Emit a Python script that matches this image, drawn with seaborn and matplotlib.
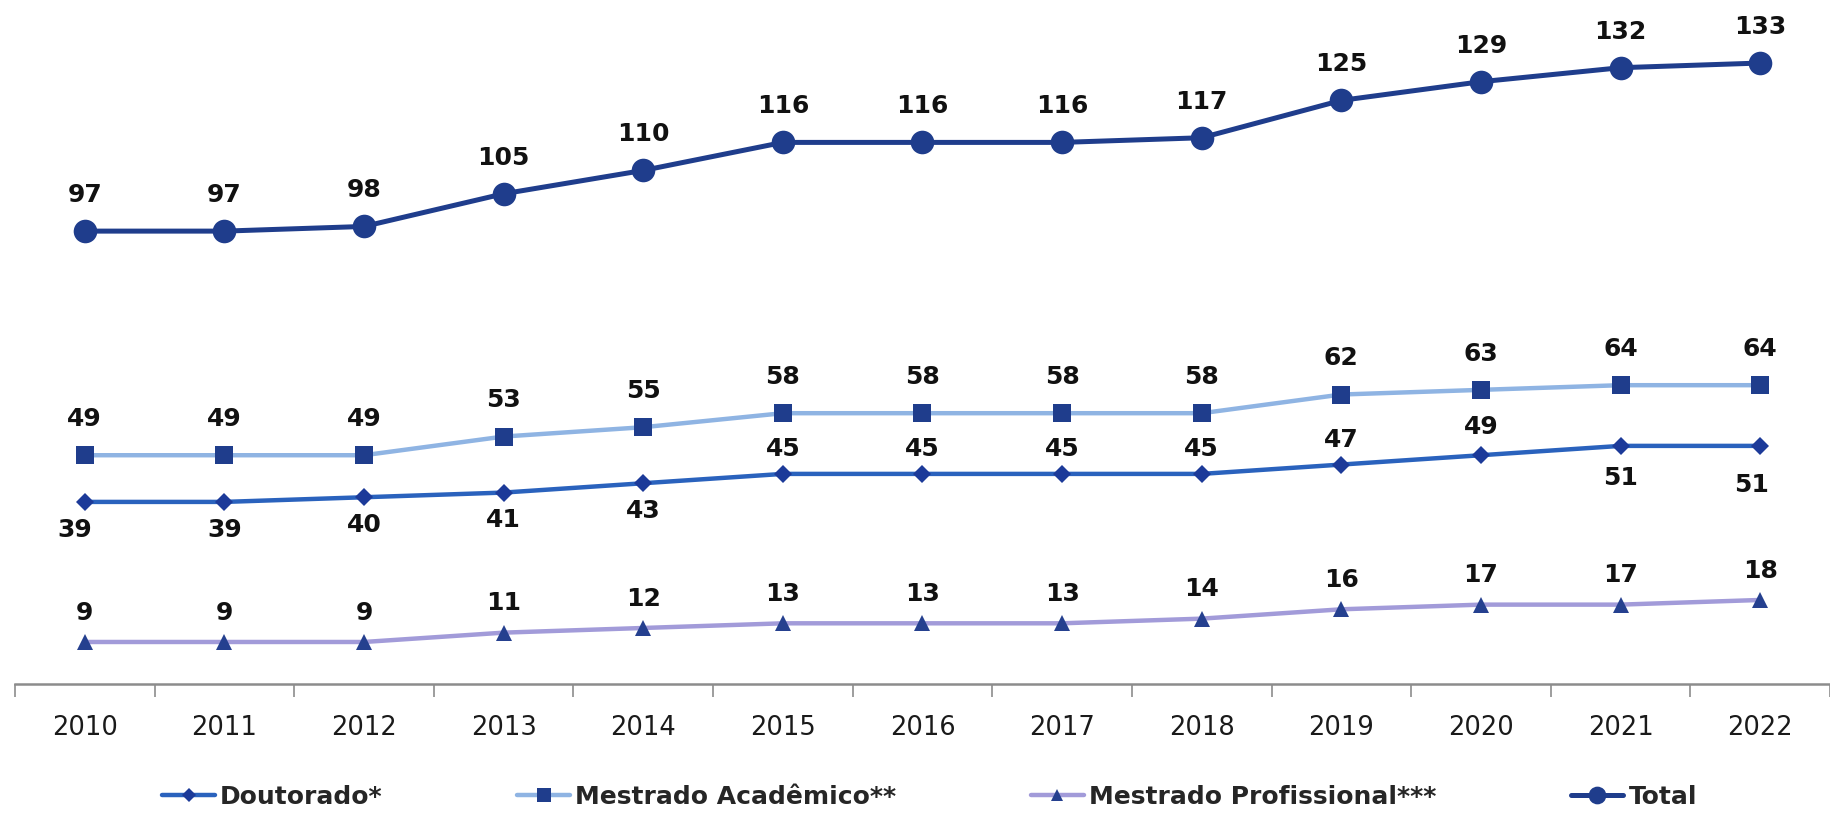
import numpy as np
import pandas as pd
import matplotlib
matplotlib.use("Agg")
import matplotlib.pyplot as plt
import seaborn as sns

# ============================================================
# Data
# ============================================================

years = [2010, 2011, 2012, 2013, 2014, 2015, 2016,
         2017, 2018, 2019, 2020, 2021, 2022]

doutorado = [39, 39, 40, 41, 43, 45, 45, 45, 45, 47, 49, 51, 51]
mestrado_academico = [49, 49, 49, 53, 55, 58, 58, 58, 58, 62, 63, 64, 64]
mestrado_profissional = [9, 9, 9, 11, 12, 13, 13, 13, 14, 16, 17, 17, 18]
total = [97, 97, 98, 105, 110, 116, 116, 116, 117, 125, 129, 132, 133]

series_names = [
    "Doutorado*",
    "Mestrado Acadêmico**",
    "Mestrado Profissional***",
    "Total",
]

# ============================================================
# Style
# ============================================================

sns.set_theme(style="white")
plt.rcParams["font.family"] = ["DejaVu Sans"]

NAVY = "#1f3d8c"

styles = {
    "Doutorado*": dict(color="#2a62bd", marker="D", markersize=9,
                       mfc="#1c3a99", lw=3.2),
    "Mestrado Acadêmico**": dict(color="#8fb4e3", marker="s", markersize=12.5,
                                 mfc=NAVY, lw=3.2),
    "Mestrado Profissional***": dict(color="#a29bd9", marker="^", markersize=12,
                                     mfc="#25408f", lw=3.2),
    "Total": dict(color=NAVY, marker="o", markersize=17,
                  mfc=NAVY, lw=3.6),
}

# label offsets (points): default per series, plus a few exceptions
label_dy = {
    "Doutorado*": [-20, -20, -20, -20, -20, 18, 18, 18, 18, 18, 20, -23, -28],
    "Mestrado Acadêmico**": [26] * 13,
    "Mestrado Profissional***": [21] * 13,
    "Total": [26] * 13,
}
label_dx = {"Doutorado*": {0: -7, 12: -6}}

df = pd.DataFrame({
    "year": years * 4,
    "value": doutorado + mestrado_academico + mestrado_profissional + total,
    "serie": np.repeat(series_names, len(years)),
})

# ============================================================
# Figure
# ============================================================

fig = plt.figure(figsize=(18.3, 8.16), dpi=100)
ax = fig.add_axes([15 / 1830, 132 / 816, 1815 / 1830, 684 / 816])

for name in series_names:
    st = styles[name]
    sub = df[df["serie"] == name]
    sns.lineplot(
        data=sub,
        x="year",
        y="value",
        color=st["color"],
        linewidth=st["lw"],
        marker=st["marker"],
        markersize=st["markersize"],
        markerfacecolor=st["mfc"],
        markeredgecolor=st["mfc"],
        markeredgewidth=0,
        label=name,
        legend=False,
        ax=ax,
    )
    for i, (x, y) in enumerate(zip(sub["year"], sub["value"])):
        dx = label_dx.get(name, {}).get(i, 0)
        ax.annotate(
            str(y),
            (x, y),
            xytext=(dx, label_dy[name][i]),
            textcoords="offset points",
            ha="center",
            va="center",
            fontsize=18,
            fontweight="bold",
            color="#111111",
        )

ax.set_xlim(2009.5, 2022.41)
ax.set_ylim(0, 146.5)

ax.set_xticks(years)
ax.set_xticklabels([str(y) for y in years], fontsize=18.5,
                   fontweight="normal", color="#1a1a1a")
ax.set_xticks(np.arange(2009.5, 2023.0, 1.0), minor=True)
ax.tick_params(axis="x", which="major", length=0, pad=22)
ax.tick_params(axis="x", which="minor", length=9, width=1.2,
               color="#8c8c8c", direction="out", bottom=True)
ax.set_yticks([])
ax.set_xlabel("")
ax.set_ylabel("")

for side in ["top", "right", "left"]:
    ax.spines[side].set_visible(False)
ax.spines["bottom"].set_color("#8c8c8c")
ax.spines["bottom"].set_linewidth(1.8)

handles, labels = ax.get_legend_handles_labels()
fig.legend(
    handles,
    labels,
    loc="center",
    bbox_to_anchor=(0.508, 0.023),
    ncol=4,
    frameon=False,
    prop={"size": 18, "weight": "bold"},
    markerscale=0.75,
    handlelength=2.1,
    handletextpad=0.2,
    columnspacing=5.4,
    borderpad=0,
)

fig.savefig("out.png", dpi=100)
